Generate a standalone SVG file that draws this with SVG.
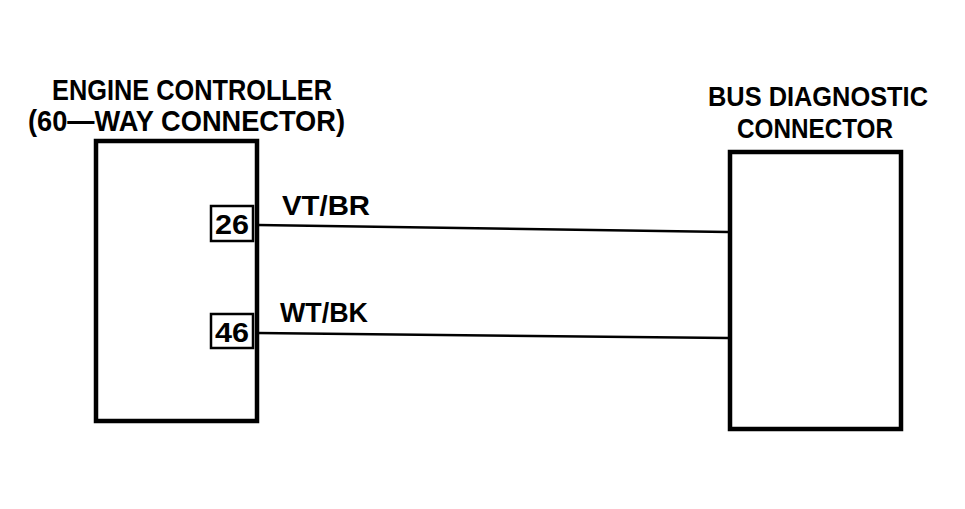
<svg xmlns="http://www.w3.org/2000/svg" width="965" height="509" viewBox="0 0 965 509">
<style>
.box{fill:#fff;stroke:#000;stroke-width:4.5}
.pin{fill:#fff;stroke:#000;stroke-width:2.5}
.wire{fill:none;stroke:#000;stroke-width:2.5}
.t{font-family:"Liberation Sans",Arial,sans-serif;font-weight:bold;fill:#000}
.h{font-size:30px}
.hb{font-size:28px}
.w{font-size:28px}
.p{font-size:28px}
</style>
<rect width="965" height="509" fill="#fff"/>
<g id="connectors">
<line class="wire" x1="258" y1="225" x2="728" y2="232"/>
<line class="wire" x1="258" y1="333" x2="728" y2="338"/>
<text class="t w" x="282" y="215" textLength="88" lengthAdjust="spacingAndGlyphs">VT/BR</text>
<text class="t w" x="280" y="322" textLength="88" lengthAdjust="spacingAndGlyphs">WT/BK</text>
</g>
<g id="engine-controller">
<text class="t h" x="52" y="100" textLength="280" lengthAdjust="spacingAndGlyphs">ENGINE CONTROLLER</text>
<text class="t h" x="28" y="131" textLength="317" lengthAdjust="spacingAndGlyphs">(60—WAY CONNECTOR)</text>
<rect class="box" x="96" y="141" width="161" height="280"/>
</g>
<g id="pin-26">
<rect class="pin" x="211" y="206" width="42" height="35"/>
<text class="t p" x="215" y="234" textLength="34" lengthAdjust="spacingAndGlyphs">26</text>
</g>
<g id="pin-46">
<rect class="pin" x="211" y="314" width="42" height="34"/>
<text class="t p" x="215" y="342" textLength="34" lengthAdjust="spacingAndGlyphs">46</text>
</g>
<g id="bus-diagnostic-connector">
<text class="t hb" x="708" y="106" textLength="220" lengthAdjust="spacingAndGlyphs">BUS DIAGNOSTIC</text>
<text class="t hb" x="737" y="138" textLength="156" lengthAdjust="spacingAndGlyphs">CONNECTOR</text>
<rect class="box" x="730" y="152" width="171" height="277"/>
</g>
</svg>
